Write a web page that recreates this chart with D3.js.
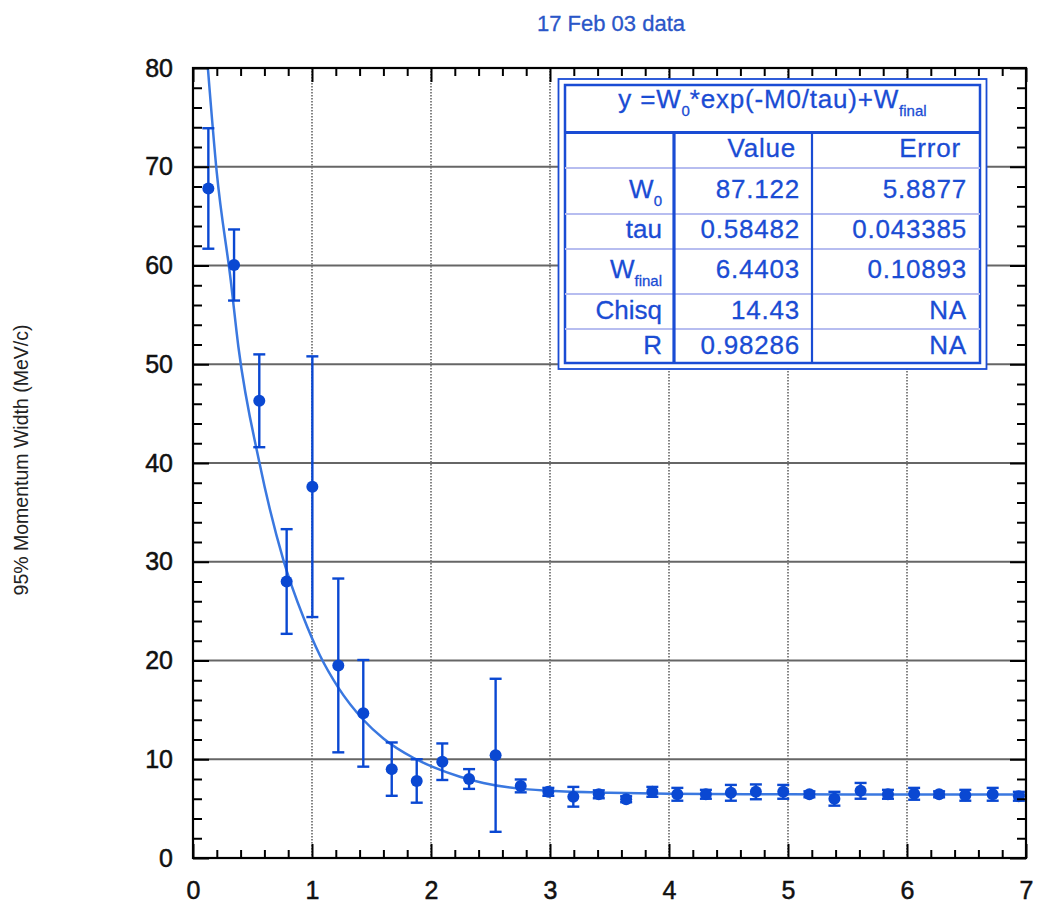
<!DOCTYPE html>
<html>
<head>
<meta charset="utf-8">
<script src="https://cdn.jsdelivr.net/npm/d3@7"></script>
<style>
  body { margin: 0; background: #fff; }
  text { font-family: "Liberation Sans", Arial, sans-serif; }
</style>
</head>
<body>
<div id="chart"></div>
<script>

// measured points (momentum width vs M0)
var pointX = [0.129, 0.345, 0.557, 0.787, 1.003, 1.221, 1.431, 1.67, 1.88, 2.095, 2.32, 2.543,
              2.754, 2.986, 3.196, 3.41, 3.64, 3.86, 4.07, 4.31, 4.52, 4.73, 4.96, 5.18,
              5.39, 5.61, 5.84, 6.06, 6.27, 6.49, 6.72, 6.94];
var pointY = [67.8, 60.05, 46.3, 28.0, 37.6, 19.5, 14.65, 9.0, 7.8, 9.75, 8.0, 10.4,
              7.3, 6.7, 6.2, 6.45, 5.95, 6.7, 6.45, 6.45, 6.6, 6.7, 6.7, 6.45,
              6.0, 6.8, 6.45, 6.5, 6.45, 6.35, 6.45, 6.25];
var pointErr = [6.1, 3.6, 4.7, 5.3, 13.2, 8.8, 5.4, 2.7, 2.2, 1.85, 1.0, 7.75,
                0.65, 0.4, 1.0, 0.4, 0.3, 0.5, 0.65, 0.45, 0.8, 0.75, 0.7, 0.3,
                0.7, 0.8, 0.45, 0.6, 0.3, 0.55, 0.65, 0.45];

// fitted curve
var fitX = [0.125, 0.199, 0.317, 0.381, 0.557, 0.759, 0.927, 1.067, 1.221, 1.431, 1.60, 1.851,
            2.02, 2.243, 2.44, 2.72, 3.0, 3.5, 4.0, 5.0, 6.0, 7.0];
var fitY = [80, 69.5, 58.5, 51.8, 40.1, 30.2, 24.4, 20.5, 17.25, 14.0, 12.1, 10.15,
            9.2, 8.23, 7.6, 7.05, 6.8, 6.6, 6.5, 6.45, 6.44, 6.44];

// fit results table
var fitHeader = ["", "Value", "Error"];
var fitLabels = [["W", "0"], ["tau", ""], ["W", "final"], ["Chisq", ""], ["R", ""]];
var fitValues = ["87.122", "0.58482", "6.4403", "14.43", "0.98286"];
var fitErrors = ["5.8877", "0.043385", "0.10893", "NA", "NA"];

var xTicks = [0, 1, 2, 3, 4, 5, 6, 7];
var yTicks = [0, 10, 20, 30, 40, 50, 60, 70, 80];

var width = 1039, height = 907;
var blue = "#0a48d2", tableBlue = "#1a4cd4";

var svg = d3.select("#chart").append("svg")
    .attr("width", width)
    .attr("height", height);

var x = d3.scaleLinear().domain([0, 7]).range([193, 1026]);
var y = d3.scaleLinear().domain([0, 80]).range([858, 68]);

var xMinor = d3.range(0, 7.001, 0.2).filter(function(d) { return Math.abs(d - Math.round(d)) > 1e-6; });
var yMinor = d3.range(0, 80.001, 2).filter(function(d) { return d % 10 !== 0; });

// grid
svg.append("g").selectAll("line")
    .data(yTicks.slice(1, -1))
    .enter().append("line")
    .attr("x1", x(0)).attr("x2", x(7))
    .attr("y1", function(d) { return y(d); })
    .attr("y2", function(d) { return y(d); })
    .style("stroke", "#666")
    .style("stroke-width", 1.8);

svg.append("g").selectAll("line")
    .data(xTicks.slice(1, -1))
    .enter().append("line")
    .attr("x1", function(d) { return x(d); })
    .attr("x2", function(d) { return x(d); })
    .attr("y1", y(80)).attr("y2", y(0))
    .style("stroke", "#777")
    .style("stroke-width", 1.8)
    .style("stroke-dasharray", "1.5,1.5");

// clip for the fit curve
svg.append("clipPath")
    .attr("id", "clip")
    .append("rect")
    .attr("x", x(0)).attr("y", y(80))
    .attr("width", x(7) - x(0))
    .attr("height", y(0) - y(80));

var line = d3.line()
    .curve(d3.curveMonotoneX)
    .x(function(d) { return x(d[0]); })
    .y(function(d) { return y(d[1]); });

svg.append("path")
    .datum(d3.zip(fitX, fitY))
    .attr("clip-path", "url(#clip)")
    .attr("d", line)
    .style("fill", "none")
    .style("stroke", "#3a78e0")
    .style("stroke-width", 2.5);

// error bars and points
var points = d3.range(pointX.length).map(function(i) {
    return {x: pointX[i], y: pointY[i], e: pointErr[i]};
});

var bars = svg.append("g").selectAll("g")
    .data(points)
    .enter().append("g")
    .style("stroke", blue)
    .style("stroke-width", 2.4);

bars.append("line")
    .attr("x1", function(d) { return x(d.x); })
    .attr("x2", function(d) { return x(d.x); })
    .attr("y1", function(d) { return y(d.y + d.e); })
    .attr("y2", function(d) { return y(d.y - d.e); });
bars.append("line")
    .attr("x1", function(d) { return x(d.x) - 6; })
    .attr("x2", function(d) { return x(d.x) + 6; })
    .attr("y1", function(d) { return y(d.y + d.e); })
    .attr("y2", function(d) { return y(d.y + d.e); });
bars.append("line")
    .attr("x1", function(d) { return x(d.x) - 6; })
    .attr("x2", function(d) { return x(d.x) + 6; })
    .attr("y1", function(d) { return y(d.y - d.e); })
    .attr("y2", function(d) { return y(d.y - d.e); });

svg.append("g").selectAll("circle")
    .data(points)
    .enter().append("circle")
    .attr("cx", function(d) { return x(d.x); })
    .attr("cy", function(d) { return y(d.y); })
    .attr("r", 6)
    .style("fill", blue);

// axes: ticks inward on all four sides
function styleAxis(g) {
    g.select(".domain").remove();
    g.selectAll("line").style("stroke", "#000").style("stroke-width", 2);
    g.selectAll("text").style("font-size", "25px").style("fill", "#111")
        .style("stroke", "#111").style("stroke-width", 0.5)
        .style("font-family", "'Liberation Sans', Arial, sans-serif");
}

svg.append("g").attr("transform", "translate(" + x(0) + ",0)")
    .call(d3.axisLeft(y).tickValues(yMinor).tickSize(-9).tickFormat("")).call(styleAxis);
svg.append("g").attr("transform", "translate(" + x(0) + ",0)")
    .call(d3.axisLeft(y).tickValues(yTicks).tickSize(-16).tickPadding(20).tickFormat(d3.format("d"))).call(styleAxis);
svg.append("g").attr("transform", "translate(" + x(7) + ",0)")
    .call(d3.axisRight(y).tickValues(yMinor).tickSize(-9).tickFormat("")).call(styleAxis);
svg.append("g").attr("transform", "translate(" + x(7) + ",0)")
    .call(d3.axisRight(y).tickValues(yTicks).tickSize(-16).tickFormat("")).call(styleAxis);

svg.append("g").attr("transform", "translate(0," + y(0) + ")")
    .call(d3.axisBottom(x).tickValues(xMinor).tickSize(-8).tickFormat("")).call(styleAxis);
svg.append("g").attr("transform", "translate(0," + y(0) + ")")
    .call(d3.axisBottom(x).tickValues(xTicks).tickSize(-14).tickPadding(23).tickFormat(d3.format("d"))).call(styleAxis);
svg.append("g").attr("transform", "translate(0," + y(80) + ")")
    .call(d3.axisTop(x).tickValues(xMinor).tickSize(-8).tickFormat("")).call(styleAxis);
svg.append("g").attr("transform", "translate(0," + y(80) + ")")
    .call(d3.axisTop(x).tickValues(xTicks).tickSize(-14).tickFormat("")).call(styleAxis);

svg.append("rect")
    .attr("x", x(0)).attr("y", y(80))
    .attr("width", x(7) - x(0))
    .attr("height", y(0) - y(80))
    .style("fill", "none")
    .style("stroke", "#000")
    .style("stroke-width", 2.2);

// title and y label
svg.append("text")
    .attr("x", 611).attr("y", 31)
    .attr("text-anchor", "middle")
    .style("font-size", "22px")
    .style("fill", "#2a56c8")
    .style("stroke", "#2a56c8").style("stroke-width", 0.3)
    .text("17 Feb 03 data");

svg.append("text")
    .attr("transform", "translate(28,460) rotate(-90)")
    .attr("text-anchor", "middle")
    .style("font-size", "19.5px")
    .style("fill", "#222")
    .text("95% Momentum Width (MeV/c)");

// fit table
var tb = {left: 565, right: 980, top: 85, bottom: 363};
var headSep = 132.5, col1 = 674, col2 = 812;
var rowLines = [168, 214, 249, 294, 329];
var rowBase = [157, 198, 238, 278, 319, 354];
var colRight = [662, 800, 967];

var table = svg.append("g");

table.append("rect")
    .attr("x", tb.left - 6.5).attr("y", tb.top - 6)
    .attr("width", tb.right - tb.left + 13).attr("height", tb.bottom - tb.top + 12)
    .style("fill", "#fff").style("stroke", tableBlue).style("stroke-width", 1.8);
table.append("rect")
    .attr("x", tb.left).attr("y", tb.top)
    .attr("width", tb.right - tb.left).attr("height", tb.bottom - tb.top)
    .style("fill", "none").style("stroke", tableBlue).style("stroke-width", 2.5);

table.selectAll(".rowline")
    .data(rowLines)
    .enter().append("line")
    .attr("x1", tb.left).attr("x2", tb.right)
    .attr("y1", function(d) { return d; }).attr("y2", function(d) { return d; })
    .style("stroke", "#b7bdf0").style("stroke-width", 1.8);

table.append("line")
    .attr("x1", tb.left).attr("x2", tb.right)
    .attr("y1", headSep).attr("y2", headSep)
    .style("stroke", tableBlue).style("stroke-width", 3.2);
table.append("line")
    .attr("x1", col1).attr("x2", col1)
    .attr("y1", headSep).attr("y2", tb.bottom)
    .style("stroke", tableBlue).style("stroke-width", 3.2);
table.append("line")
    .attr("x1", col2).attr("x2", col2)
    .attr("y1", headSep).attr("y2", tb.bottom)
    .style("stroke", tableBlue).style("stroke-width", 2.2);

var formula = table.append("text")
    .attr("x", (tb.left + tb.right) / 2).attr("y", 108)
    .attr("text-anchor", "middle")
    .style("font-size", "26px")
    .style("letter-spacing", "0.8px")
    .style("fill", tableBlue)
    .style("stroke", tableBlue).style("stroke-width", 0.3);
formula.append("tspan").text("y =W");
formula.append("tspan").attr("dy", 8).style("font-size", "15px").style("letter-spacing", "0px").text("0");
formula.append("tspan").attr("dy", -8).text("*exp(-M0/tau)+W");
formula.append("tspan").attr("dy", 8).style("font-size", "15px").style("letter-spacing", "0px").text("final");

function cell(xr, yb, txt) {
    return table.append("text")
        .attr("x", xr).attr("y", yb)
        .attr("text-anchor", "end")
        .style("font-size", "26px")
        .style("letter-spacing", "0.8px")
        .style("fill", tableBlue)
        .style("stroke", tableBlue).style("stroke-width", 0.3)
        .text(txt);
}

cell(colRight[1] - 4, rowBase[0], fitHeader[1]);
cell(colRight[2] - 6, rowBase[0], fitHeader[2]);

fitLabels.forEach(function(lab, i) {
    var t = table.append("text")
        .attr("x", colRight[0]).attr("y", rowBase[i + 1])
        .attr("text-anchor", "end")
        .style("font-size", "26px")
        .style("fill", tableBlue)
        .style("stroke", tableBlue).style("stroke-width", 0.3);
    t.append("tspan").text(lab[0]);
    if (lab[1]) {
        t.append("tspan").attr("dy", 8).style("font-size", "15px").text(lab[1]);
    }
    cell(colRight[1], rowBase[i + 1], fitValues[i]);
    cell(colRight[2], rowBase[i + 1], fitErrors[i]);
});

</script>
</body>
</html>
